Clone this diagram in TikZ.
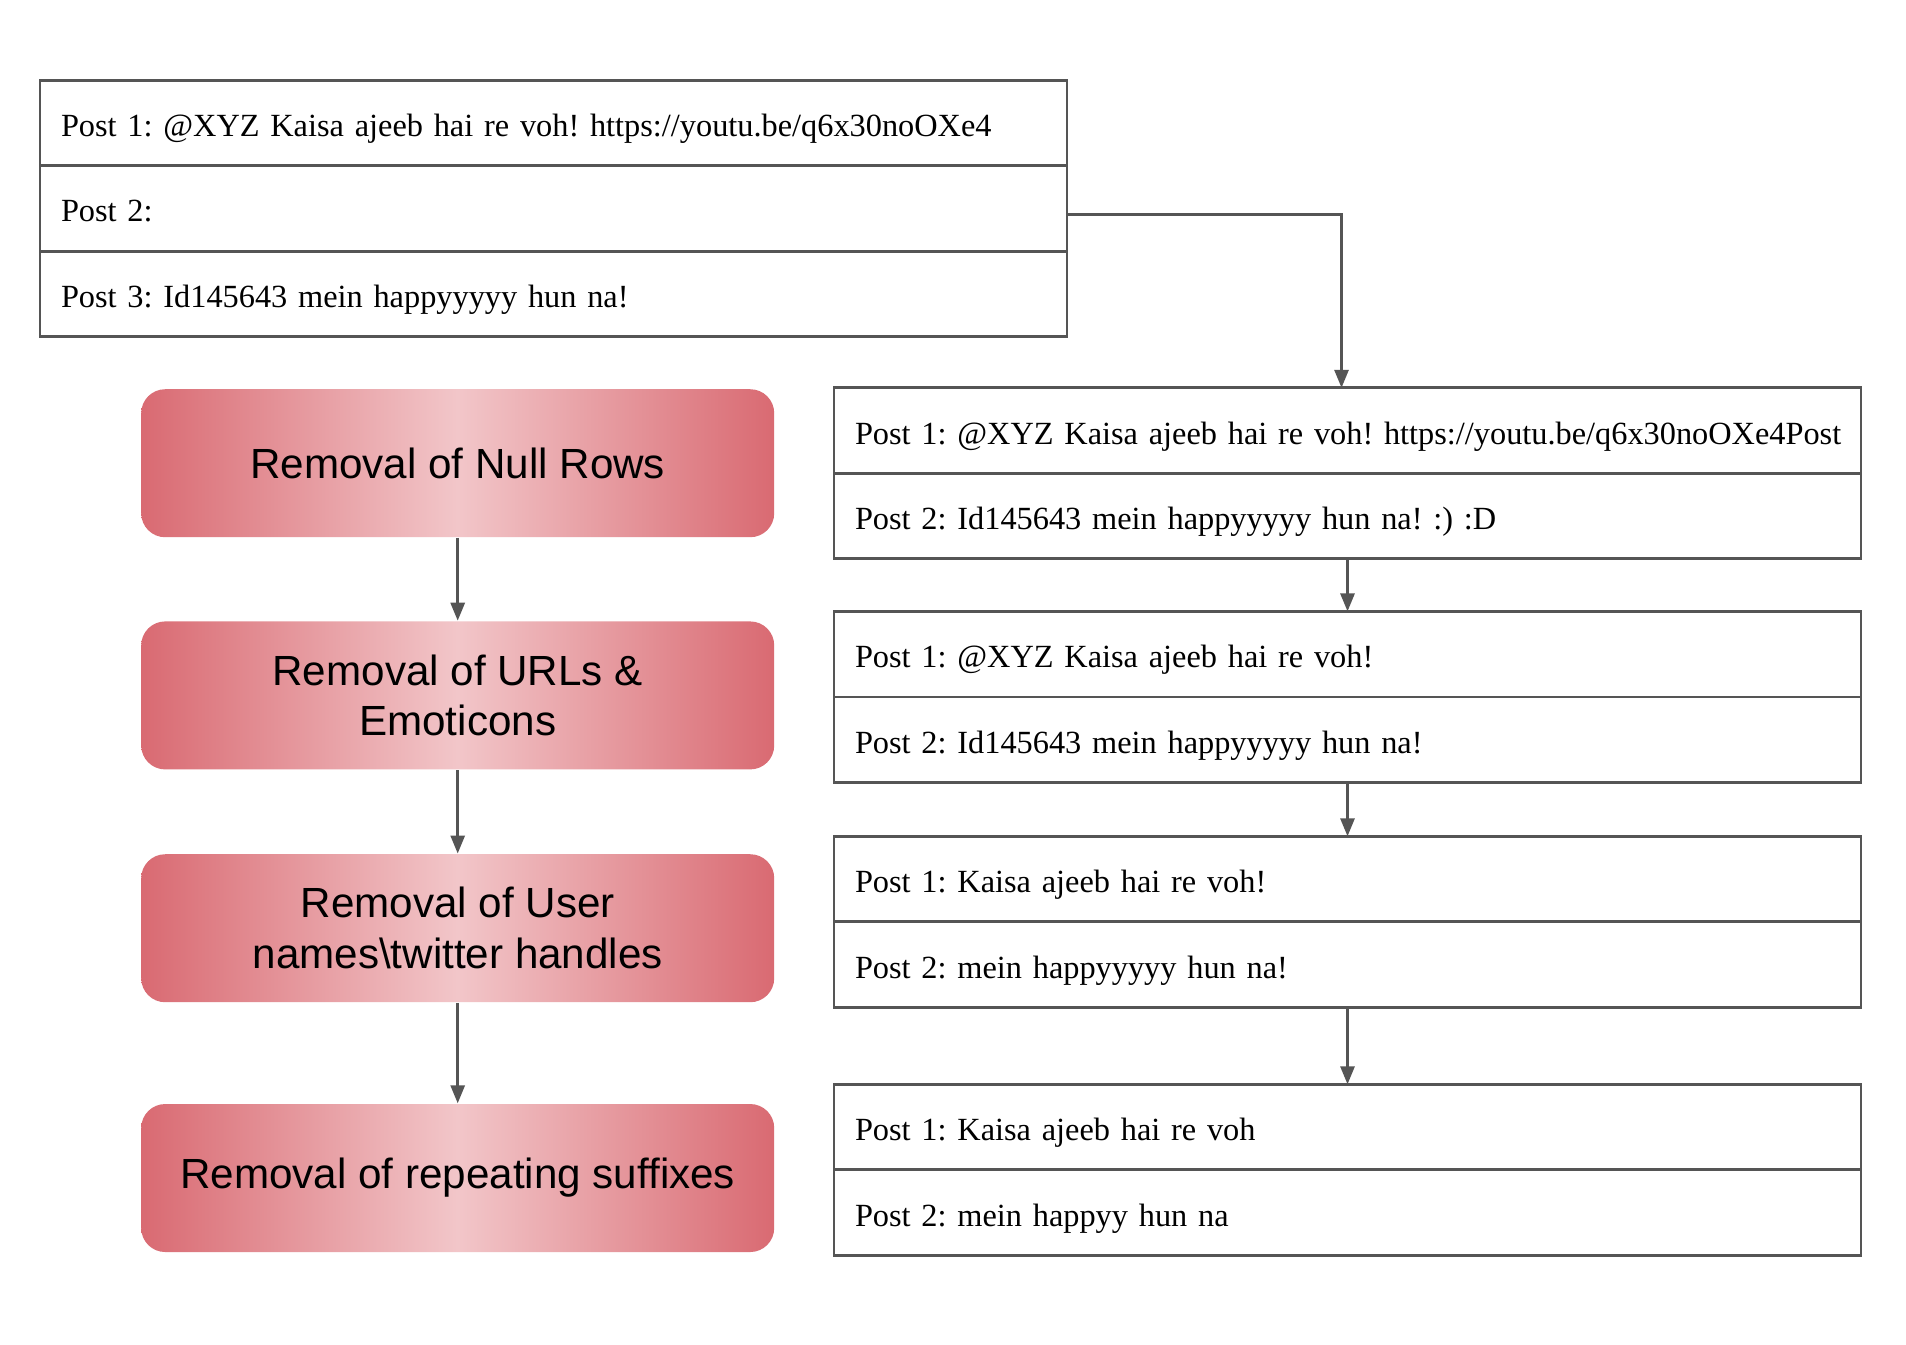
\documentclass[tikz,border=0pt]{standalone}
\usepackage{fontspec}
\setmainfont{Liberation Serif}
\setsansfont{Liberation Sans}
\usetikzlibrary{arrows.meta,positioning}
\definecolor{clEdge}{HTML}{D96A72}
\definecolor{clCentre}{HTML}{F2C6C9}
\definecolor{clLine}{HTML}{555555}
\tikzset{
  postrow/.style={rectangle, draw=clLine, line width=0.8pt, outer sep=0pt,
                  text width=10.2cm, inner xsep=0.035cm, inner ysep=0pt,
                  text height=0.35cm, text depth=0.08cm,
                  minimum height=0.855cm, align=left,
                  execute at begin node={\frenchspacing\hspace*{0.175cm}},
                  font=\fontsize{9.2}{11}\selectfont},
  stage/.style={rectangle, rounded corners=0.24cm,
                left color=clEdge, right color=clEdge, middle color=clCentre,
                minimum width=6.33cm, minimum height=1.48cm, align=center,
                font=\sffamily\fontsize{12}{14.5}\selectfont},
  flow/.style={-{Triangle[length=1.8mm,width=1.4mm]}, line width=0.8pt, draw=clLine},
}
\begin{document}
\begin{tikzpicture}[node distance=0pt]
  \useasboundingbox[fill=white] (0,0) rectangle (19.06,-13.44);
  % raw posts
  \node[postrow, anchor=north west] (r1) at (0.40,-0.802) {Post 1: @XYZ Kaisa ajeeb hai re voh! https://youtu.be/q6x30noOXe4};
  \node[postrow, below=of r1] (r2) {Post 2:};
  \node[postrow, below=of r2] (r3) {Post 3: Id145643 mein happyyyyy hun na!};
  % cleaning stages
  \node[stage] (s1) at (4.577,-4.632) {Removal of Null Rows};
  \node[stage] (s2) at (4.577,-6.954) {Removal of URLs \&\\Emoticons};
  \node[stage] (s3) at (4.577,-9.282) {Removal of User\\names\textbackslash twitter handles};
  \node[stage] (s4) at (4.577,-11.78) {Removal of repeating suffixes};
  \draw[flow] (s1) -- (s2); \draw[flow] (s2) -- (s3); \draw[flow] (s3) -- (s4);
  % posts after each stage
  \node[postrow, anchor=north west] (a1) at (8.34,-3.878) {Post 1: @XYZ Kaisa ajeeb hai re voh! https://youtu.be/q6x30noOXe4Post};
  \node[postrow, below=of a1] (a2) {Post 2: Id145643 mein happyyyyy hun na! :) :D};
  \node[postrow, anchor=north west] (b1) at (8.34,-6.114) {Post 1: @XYZ Kaisa ajeeb hai re voh!};
  \node[postrow, below=of b1] (b2) {Post 2: Id145643 mein happyyyyy hun na!};
  \node[postrow, anchor=north west] (c1) at (8.34,-8.363) {Post 1: Kaisa ajeeb hai re voh!};
  \node[postrow, below=of c1] (c2) {Post 2: mein happyyyyy hun na!};
  \node[postrow, anchor=north west] (d1) at (8.34,-10.843) {Post 1: Kaisa ajeeb hai re voh};
  \node[postrow, below=of d1] (d2) {Post 2: mein happyy hun na};
  \draw[flow] ([yshift=-0.06cm]r2.east) -| ([xshift=-0.06cm]a1.north);
  \draw[flow] (a2) -- (b1); \draw[flow] (b2) -- (c1); \draw[flow] (c2) -- (d1);
\end{tikzpicture}
\end{document}
